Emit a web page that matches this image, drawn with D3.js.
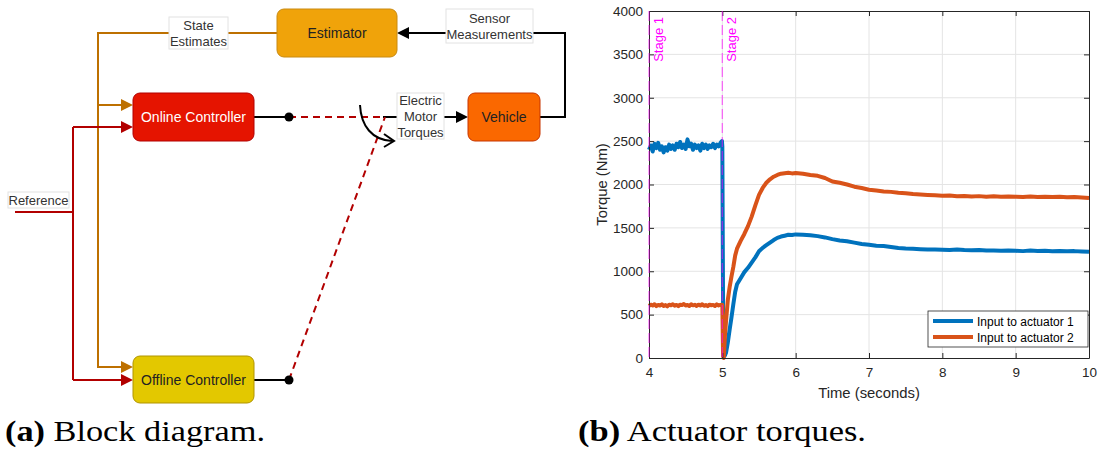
<!DOCTYPE html>
<html>
<head>
<meta charset="utf-8">
<script src="https://cdn.jsdelivr.net/npm/d3@7"></script>
<style>
  body { margin: 0; background: #fff; }
  svg { display: block; font-family: "Liberation Sans", Arial, sans-serif; }
</style>
</head>
<body>
<svg id="fig" width="1099" height="450"></svg>
<script>
// ---- data ----
const timeStage1 = [4.000, 4.025, 4.050, 4.075, 4.100, 4.125, 4.150, 4.175, 4.200, 4.225,
  4.250, 4.275, 4.300, 4.325, 4.350, 4.375, 4.400, 4.425, 4.450, 4.475,
  4.500, 4.525, 4.550, 4.575, 4.600, 4.625, 4.650, 4.675, 4.700, 4.725,
  4.750, 4.775, 4.800, 4.825, 4.850, 4.875, 4.900, 4.925, 4.950, 4.975, 4.995];
const act1Stage1 = [2400, 2450, 2380, 2470, 2420, 2480, 2400, 2440, 2370, 2430,
  2390, 2460, 2410, 2450, 2400, 2470, 2430, 2490, 2420, 2460,
  2410, 2520, 2440, 2470, 2400, 2460, 2420, 2450, 2390, 2470,
  2420, 2460, 2410, 2450, 2430, 2470, 2420, 2460, 2440, 2480, 2500];
const act2Stage1 = [600, 615, 605, 620, 598, 612, 605, 618, 600, 610,
  595, 615, 608, 620, 603, 612, 598, 615, 610, 622,
  605, 612, 600, 618, 607, 613, 600, 615, 605, 620,
  602, 610, 598, 615, 608, 612, 600, 618, 606, 612, 615];

const timeStage2 = [5.000, 5.010, 5.020, 5.035, 5.050, 5.075, 5.100, 5.125, 5.150, 5.175,
  5.200, 5.250, 5.300, 5.350, 5.400, 5.450, 5.500, 5.550, 5.600, 5.650,
  5.700, 5.750, 5.800, 5.850, 5.900, 5.950, 6.000,
  6.1, 6.2, 6.3, 6.4, 6.5, 6.6, 6.7, 6.8, 6.9, 7.0,
  7.1, 7.2, 7.3, 7.4, 7.5, 7.6, 7.7, 7.8, 7.9, 8.0,
  8.1, 8.2, 8.3, 8.4, 8.5, 8.6, 8.7, 8.8, 8.9, 9.0,
  9.1, 9.2, 9.3, 9.4, 9.5, 9.6, 9.7, 9.8, 9.9, 10.0];
const act1Stage2 = [2440, 600, 350, 30, 60, 180, 330, 470, 620, 760,
  850, 920, 990, 1040, 1100, 1160, 1230, 1270, 1300, 1330,
  1360, 1385, 1400, 1410, 1420, 1418, 1425,
  1420, 1415, 1405, 1390, 1370, 1355, 1345, 1330, 1315, 1305,
  1295, 1290, 1280, 1268, 1262, 1258, 1255, 1252, 1250, 1248,
  1246, 1250, 1244, 1242, 1246, 1238, 1240, 1236, 1240, 1236,
  1232, 1238, 1234, 1236, 1230, 1234, 1230, 1232, 1228, 1225];
const act2Stage2 = [610, 20, 0, 250, 420, 670, 820, 940, 1050, 1180,
  1260, 1350, 1430, 1520, 1630, 1760, 1880, 1960, 2020, 2060,
  2090, 2110, 2125, 2130, 2135, 2128, 2132,
  2125, 2110, 2100, 2075, 2035, 2020, 2000, 1975, 1960, 1940,
  1930, 1920, 1915, 1905, 1900, 1890, 1885, 1880, 1875, 1870,
  1872, 1865, 1868, 1862, 1866, 1860, 1864, 1858, 1862, 1860,
  1856, 1862, 1855, 1860, 1856, 1858, 1852, 1856, 1850, 1845];

const stageTimes = [4, 5];
const stageNames = ["Stage 1", "Stage 2"];
const seriesNames = ["Input to actuator 1", "Input to actuator 2"];
const seriesColors = ["#0072bd", "#d95319"];
const xTicks = [4, 5, 6, 7, 8, 9, 10];
const yTicks = [0, 500, 1000, 1500, 2000, 2500, 3000, 3500, 4000];

const svg = d3.select("#fig");

// ================= (a) block diagram =================
const diag = svg.append("g");

function arrowHead(g, x, y, color, dir) {
  // filled triangle, tip at (x, y)
  const d = dir === "left"
    ? `M${x},${y} L${x + 12},${y - 6} L${x + 12},${y + 6} Z`
    : `M${x},${y} L${x - 12},${y - 6} L${x - 12},${y + 6} Z`;
  g.append("path").attr("d", d).attr("fill", color);
}

const orange = "#bd7000", red = "#b20000";

// state estimates feedback
diag.append("path").attr("d", "M277,33 H98 V367 H122 M98,105 H122")
  .attr("fill", "none").attr("stroke", orange).attr("stroke-width", 2);
arrowHead(diag, 133, 105, orange);
arrowHead(diag, 133, 367, orange);

// reference
diag.append("path").attr("d", "M15,212 H73 M73,127 V380 M73,127 H122 M73,380 H122")
  .attr("fill", "none").attr("stroke", red).attr("stroke-width", 2);
arrowHead(diag, 133, 127, red);
arrowHead(diag, 133, 380, red);

// controller outputs
diag.append("path").attr("d", "M254,117 H289 M254,380 H289 M383,117 H458 M540,117 H565 V33 H409")
  .attr("fill", "none").attr("stroke", "#000").attr("stroke-width", 2);
arrowHead(diag, 468, 117, "#000");
arrowHead(diag, 397, 33, "#000", "left");

// switch (dashed)
diag.append("path").attr("d", "M289,117 H385 M289,380 L385,117")
  .attr("fill", "none").attr("stroke", red).attr("stroke-width", 2)
  .attr("stroke-dasharray", "7,5");
diag.selectAll("circle.node").data([117, 380]).join("circle")
  .attr("cx", 289).attr("cy", d => d).attr("r", 4.5).attr("fill", "#000");

// curved switching arrow
diag.append("path").attr("d", "M360,105 C361,126 372,140 392,141")
  .attr("fill", "none").attr("stroke", "#000").attr("stroke-width", 2);
diag.append("path").attr("d", "M384,134 L394,141 L384,147")
  .attr("fill", "none").attr("stroke", "#000").attr("stroke-width", 2);

const blocks = [
  { name: "Estimator", x: 277, y: 9, w: 120, h: 48, fill: "#f0a30a", stroke: "#c98a10", color: "#222" },
  { name: "Online Controller", x: 133, y: 93, w: 121, h: 48, fill: "#e51400", stroke: "#b20000", color: "#fff" },
  { name: "Vehicle", x: 468, y: 93, w: 72, h: 48, fill: "#fa6800", stroke: "#c73500", color: "#222" },
  { name: "Offline Controller", x: 133, y: 356, w: 121, h: 47, fill: "#e3c800", stroke: "#b09500", color: "#222" }
];
const bg = diag.selectAll("g.block").data(blocks).join("g").attr("class", "block");
bg.append("rect")
  .attr("x", d => d.x).attr("y", d => d.y).attr("width", d => d.w).attr("height", d => d.h)
  .attr("rx", 7).attr("fill", d => d.fill).attr("stroke", d => d.stroke);
bg.append("text")
  .attr("x", d => d.x + d.w / 2).attr("y", d => d.y + d.h / 2 + 5)
  .attr("text-anchor", "middle").attr("font-size", 14).attr("fill", d => d.color)
  .text(d => d.name);

const labels = [
  { lines: ["State", "Estimates"], x: 169, y: 17, w: 59, h: 32 },
  { lines: ["Sensor", "Measurements"], x: 446, y: 9, w: 87, h: 34 },
  { lines: ["Electric", "Motor", "Torques"], x: 397, y: 93, w: 47, h: 46 },
  { lines: ["Reference"], x: 8, y: 192, w: 61, h: 16 }
];
const lg = diag.selectAll("g.label").data(labels).join("g").attr("class", "label");
lg.append("rect")
  .attr("x", d => d.x).attr("y", d => d.y).attr("width", d => d.w).attr("height", d => d.h)
  .attr("fill", "#fff").attr("stroke", "#e2e2e2");
lg.each(function (d) {
  const n = d.lines.length;
  const cy = d.y + d.h / 2;
  d3.select(this).selectAll("text").data(d.lines).join("text")
    .attr("x", d.x + d.w / 2)
    .attr("y", (t, i) => cy + (i - (n - 1) / 2) * 16 + 4.5)
    .attr("text-anchor", "middle").attr("font-size", 13).attr("fill", "#333")
    .text(t => t);
});

// ================= (b) torque plot =================
const plot = { left: 649, right: 1089, top: 11, bottom: 358 };
const x = d3.scaleLinear().domain([4, 10]).range([plot.left, plot.right]);
const y = d3.scaleLinear().domain([0, 4000]).range([plot.bottom, plot.top]);
const axisColor = "#262626";

const chart = svg.append("g");

// grid
chart.append("g").selectAll("line").data(xTicks.slice(1, -1)).join("line")
  .attr("x1", d => x(d)).attr("x2", d => x(d)).attr("y1", plot.top).attr("y2", plot.bottom)
  .attr("stroke", "#e4e4e4").attr("stroke-width", 1);
chart.append("g").selectAll("line").data(yTicks.slice(1, -1)).join("line")
  .attr("x1", plot.left).attr("x2", plot.right).attr("y1", d => y(d)).attr("y2", d => y(d))
  .attr("stroke", "#e4e4e4").attr("stroke-width", 1);

// series
const series = [
  { times: timeStage1.concat(timeStage2), values: act1Stage1.concat(act1Stage2) },
  { times: timeStage1.concat(timeStage2), values: act2Stage1.concat(act2Stage2) }
];
const line = d3.line().x(d => x(d[0])).y(d => y(d[1]));
series.forEach((s, i) => {
  chart.append("path")
    .datum(s.times.map((t, j) => [t, s.values[j]]))
    .attr("d", line)
    .attr("fill", "none").attr("stroke", seriesColors[i])
    .attr("stroke-width", 4).attr("stroke-linejoin", "round");
});

// axes (MATLAB-style box with inward ticks)
function styleAxis(g) {
  g.selectAll(".domain").attr("stroke", axisColor);
  g.selectAll(".tick line").attr("stroke", axisColor);
  g.selectAll(".tick text").attr("fill", axisColor).attr("font-size", 13.5)
    .attr("font-family", "'Liberation Sans', Arial, sans-serif");
}
chart.append("g").attr("transform", `translate(0,${plot.bottom})`)
  .call(d3.axisBottom(x).tickValues(xTicks).tickSizeInner(-5).tickSizeOuter(0).tickPadding(9).tickFormat(d3.format("d")))
  .call(styleAxis);
chart.append("g").attr("transform", `translate(0,${plot.top})`)
  .call(d3.axisTop(x).tickValues(xTicks).tickSizeInner(-5).tickSizeOuter(0).tickFormat(""))
  .call(styleAxis);
chart.append("g").attr("transform", `translate(${plot.left},0)`)
  .call(d3.axisLeft(y).tickValues(yTicks).tickSizeInner(-5).tickSizeOuter(0).tickPadding(6).tickFormat(d3.format("d")))
  .call(styleAxis);
chart.append("g").attr("transform", `translate(${plot.right},0)`)
  .call(d3.axisRight(y).tickValues(yTicks).tickSizeInner(-5).tickSizeOuter(0).tickFormat(""))
  .call(styleAxis);

// stage markers
chart.append("g").selectAll("line").data(stageTimes).join("line")
  .attr("x1", d => x(d)).attr("x2", d => x(d)).attr("y1", plot.top).attr("y2", plot.bottom)
  .attr("stroke", "#ff00ff").attr("stroke-opacity", 0.55).attr("stroke-width", 1.3)
  .attr("stroke-dasharray", "10,4");
chart.append("g").selectAll("text").data(stageTimes).join("text")
  .attr("transform", d => `translate(${x(d) + 14},${plot.top + 6}) rotate(-90)`)
  .attr("text-anchor", "end").attr("font-size", 13).attr("fill", "#ff00ff")
  .text((d, i) => stageNames[i]);

// axis labels
chart.append("text")
  .attr("transform", `translate(607,${(plot.top + plot.bottom) / 2}) rotate(-90)`)
  .attr("text-anchor", "middle").attr("font-size", 14.85).attr("fill", axisColor)
  .text("Torque (Nm)");
chart.append("text")
  .attr("x", (plot.left + plot.right) / 2).attr("y", 398)
  .attr("text-anchor", "middle").attr("font-size", 14.85).attr("fill", axisColor)
  .text("Time (seconds)");

// legend
const legend = chart.append("g");
legend.append("rect").attr("x", 928).attr("y", 311).attr("width", 160).attr("height", 36)
  .attr("fill", "#fff").attr("stroke", axisColor).attr("stroke-width", 0.8);
const li = legend.selectAll("g").data(seriesNames).join("g")
  .attr("transform", (d, i) => `translate(0,${321 + i * 16})`);
li.append("line").attr("x1", 933).attr("x2", 973)
  .attr("stroke", (d, i) => seriesColors[i]).attr("stroke-width", 4);
li.append("text").attr("x", 977).attr("y", 4.5).attr("font-size", 12).attr("fill", "#000")
  .text(d => d);

// ================= captions =================
const captions = [
  { tag: "(a)", text: " Block diagram.", x: 5, width: 260 },
  { tag: "(b)", text: " Actuator torques.", x: 578, width: 288 }
];
const cap = svg.selectAll("text.caption").data(captions).join("text")
  .attr("class", "caption")
  .attr("x", d => d.x).attr("y", 441)
  .attr("font-family", "'Liberation Serif', 'Times New Roman', serif")
  .attr("font-size", 29).attr("fill", "#000")
  .attr("textLength", d => d.width).attr("lengthAdjust", "spacingAndGlyphs");
cap.append("tspan").attr("font-weight", "bold").text(d => d.tag);
cap.append("tspan").text(d => d.text);
</script>
</body>
</html>
